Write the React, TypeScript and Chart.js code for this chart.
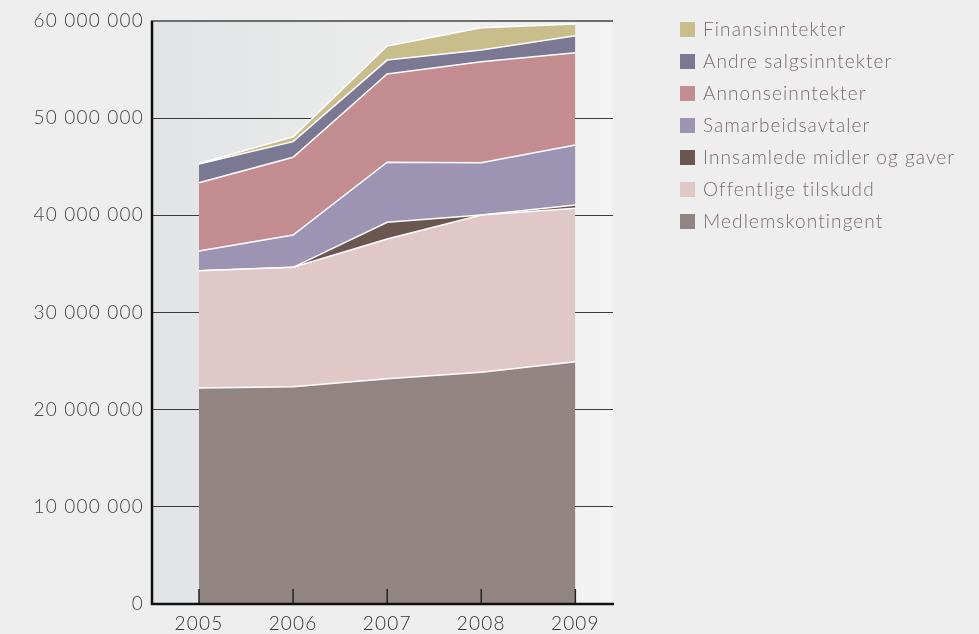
import React, { useEffect, useRef } from 'react';
import { Chart, registerables } from 'chart.js';

Chart.register(...registerables);

// Years (x categories)
const years = [2005, 2006, 2007, 2008, 2009];

// Series values in NOK (stacked bottom -> top)
const medlemskontingent = [22230000, 22360000, 23180000, 23850000, 24940000];
const offentligeTilskudd = [12070000, 12290000, 14380000, 16180000, 15780000];
const innsamledeMidler = [0, 0, 1720000, 0, 340000];
const samarbeidsavtaler = [2030000, 3320000, 6180000, 5390000, 6180000];
const annonseinntekter = [7030000, 8000000, 9080000, 10390000, 9500000];
const andreSalgsinntekter = [1920000, 1610000, 1440000, 1200000, 1750000];
const finansinntekter = [50000, 510000, 1450000, 2300000, 1200000];

// Y tick values
const yTickValues = [0, 10000000, 20000000, 30000000, 40000000, 50000000, 60000000];

const seriesNames = [
  'Medlemskontingent',
  'Offentlige tilskudd',
  'Innsamlede midler og gaver',
  'Samarbeidsavtaler',
  'Annonseinntekter',
  'Andre salgsinntekter',
  'Finansinntekter',
];
const seriesData = [
  medlemskontingent,
  offentligeTilskudd,
  innsamledeMidler,
  samarbeidsavtaler,
  annonseinntekter,
  andreSalgsinntekter,
  finansinntekter,
];
const seriesColors = ['#928483', '#e0c7c8', '#6b5650', '#9c94b2', '#c28c90', '#7a7892', '#c8bd8b'];

const FONT = 'Lato, "Open Sans", sans-serif';

function formatNumber(v: number): string {
  return String(Math.round(v)).replace(/\B(?=(\d{3})+(?!\d))/g, ' ');
}

const decorPlugin = {
  id: 'decor',
  beforeDraw(chart: any) {
    const { ctx, chartArea } = chart;
    const { left, right, top, bottom } = chartArea;
    try {
      ctx.letterSpacing = '1.2px';
    } catch (e) {
      /* ignore */
    }
    ctx.save();
    const g = ctx.createLinearGradient(left, 0, right, 0);
    g.addColorStop(0, '#e2e3e4');
    g.addColorStop(1, '#f3f3f3');
    ctx.fillStyle = g;
    ctx.fillRect(left, top, right - left, bottom - top);
    ctx.restore();
  },
  afterDatasetsDraw(chart: any) {
    const { ctx, chartArea, scales } = chart;
    const { left, right, top, bottom } = chartArea;
    const xs = scales.x;
    ctx.save();
    ctx.strokeStyle = '#222';
    ctx.lineWidth = 1.5;
    years.forEach((yr) => {
      const px = xs.getPixelForValue(yr);
      ctx.beginPath();
      ctx.moveTo(px, bottom - 15);
      ctx.lineTo(px, bottom);
      ctx.stroke();
    });
    ctx.strokeStyle = '#111';
    ctx.lineWidth = 2.5;
    ctx.beginPath();
    ctx.moveTo(left, bottom);
    ctx.lineTo(right + 1, bottom);
    ctx.stroke();
    ctx.beginPath();
    ctx.moveTo(left + 1, top);
    ctx.lineTo(left + 1, bottom + 1);
    ctx.stroke();
    ctx.restore();
  },
};

export default function App() {
  const canvasRef = useRef<HTMLCanvasElement | null>(null);

  useEffect(() => {
    if (!canvasRef.current) return;
    const datasets = seriesNames.map((name, i) => ({
      label: name,
      data: seriesData[i],
      backgroundColor: seriesColors[i],
      borderColor: '#ffffff',
      borderWidth: 1.5,
      pointRadius: 0,
      pointHoverRadius: 0,
      tension: 0,
      fill: i === 0 ? 'origin' : '-1',
    }));
    const chart = new Chart(canvasRef.current, {
      type: 'line',
      data: { labels: years, datasets },
      options: {
        animation: false,
        responsive: false,
        devicePixelRatio: 1,
        layout: { padding: { left: 0, right: 366, top: 21, bottom: 0 } },
        plugins: {
          legend: { display: false },
          tooltip: { enabled: false },
        },
        scales: {
          x: {
            type: 'linear',
            min: 2004.49,
            max: 2009.4,
            ticks: {
              stepSize: 1,
              includeBounds: false,
              padding: 8,
              color: '#333333',
              font: { family: FONT, size: 19, weight: '300' },
              callback: (v: any) => String(v),
            },
            grid: { display: false, drawTicks: false },
            border: { display: false },
            afterFit: (s: any) => {
              s.height = 30;
            },
          },
          y: {
            stacked: true,
            min: 0,
            max: 60000000,
            afterBuildTicks: (s: any) => {
              s.ticks = yTickValues.map((v) => ({ value: v }));
            },
            ticks: {
              padding: 7,
              color: '#454545',
              font: { family: FONT, size: 19, weight: '300' },
              callback: (v: any) => formatNumber(Number(v)),
            },
            grid: {
              drawTicks: false,
              color: (c: any) => (c.tick && c.tick.value === 60000000 ? '#6e6e6e' : '#3a3a3a'),
              lineWidth: (c: any) => (c.tick && c.tick.value === 60000000 ? 2 : 1),
            },
            border: { display: false },
            afterFit: (s: any) => {
              s.width = 151;
            },
          },
        },
      },
      plugins: [decorPlugin],
    });
    return () => chart.destroy();
  }, []);

  const legendOrder = [...seriesNames.keys()].reverse();

  return (
    <div
      style={{
        position: 'absolute',
        left: 0,
        top: 0,
        width: 979,
        height: 634,
        background: '#edeeed',
        overflow: 'hidden',
      }}
    >
      <canvas ref={canvasRef} width={979} height={634} style={{ position: 'absolute', left: 0, top: 0 }} />
      <div style={{ position: 'absolute', left: 680, top: 13 }}>
        {legendOrder.map((i) => (
          <div key={seriesNames[i]} style={{ display: 'flex', alignItems: 'center', height: 32 }}>
            <span
              style={{
                display: 'inline-block',
                width: 15,
                height: 15,
                background: seriesColors[i],
                marginRight: 8,
                flexShrink: 0,
              }}
            />
            <span
              style={{
                fontFamily: FONT,
                fontWeight: 300,
                fontSize: 19,
                letterSpacing: '1.1px',
                color: '#7b6c70',
                lineHeight: '32px',
                whiteSpace: 'nowrap',
              }}
            >
              {seriesNames[i]}
            </span>
          </div>
        ))}
      </div>
    </div>
  );
}
